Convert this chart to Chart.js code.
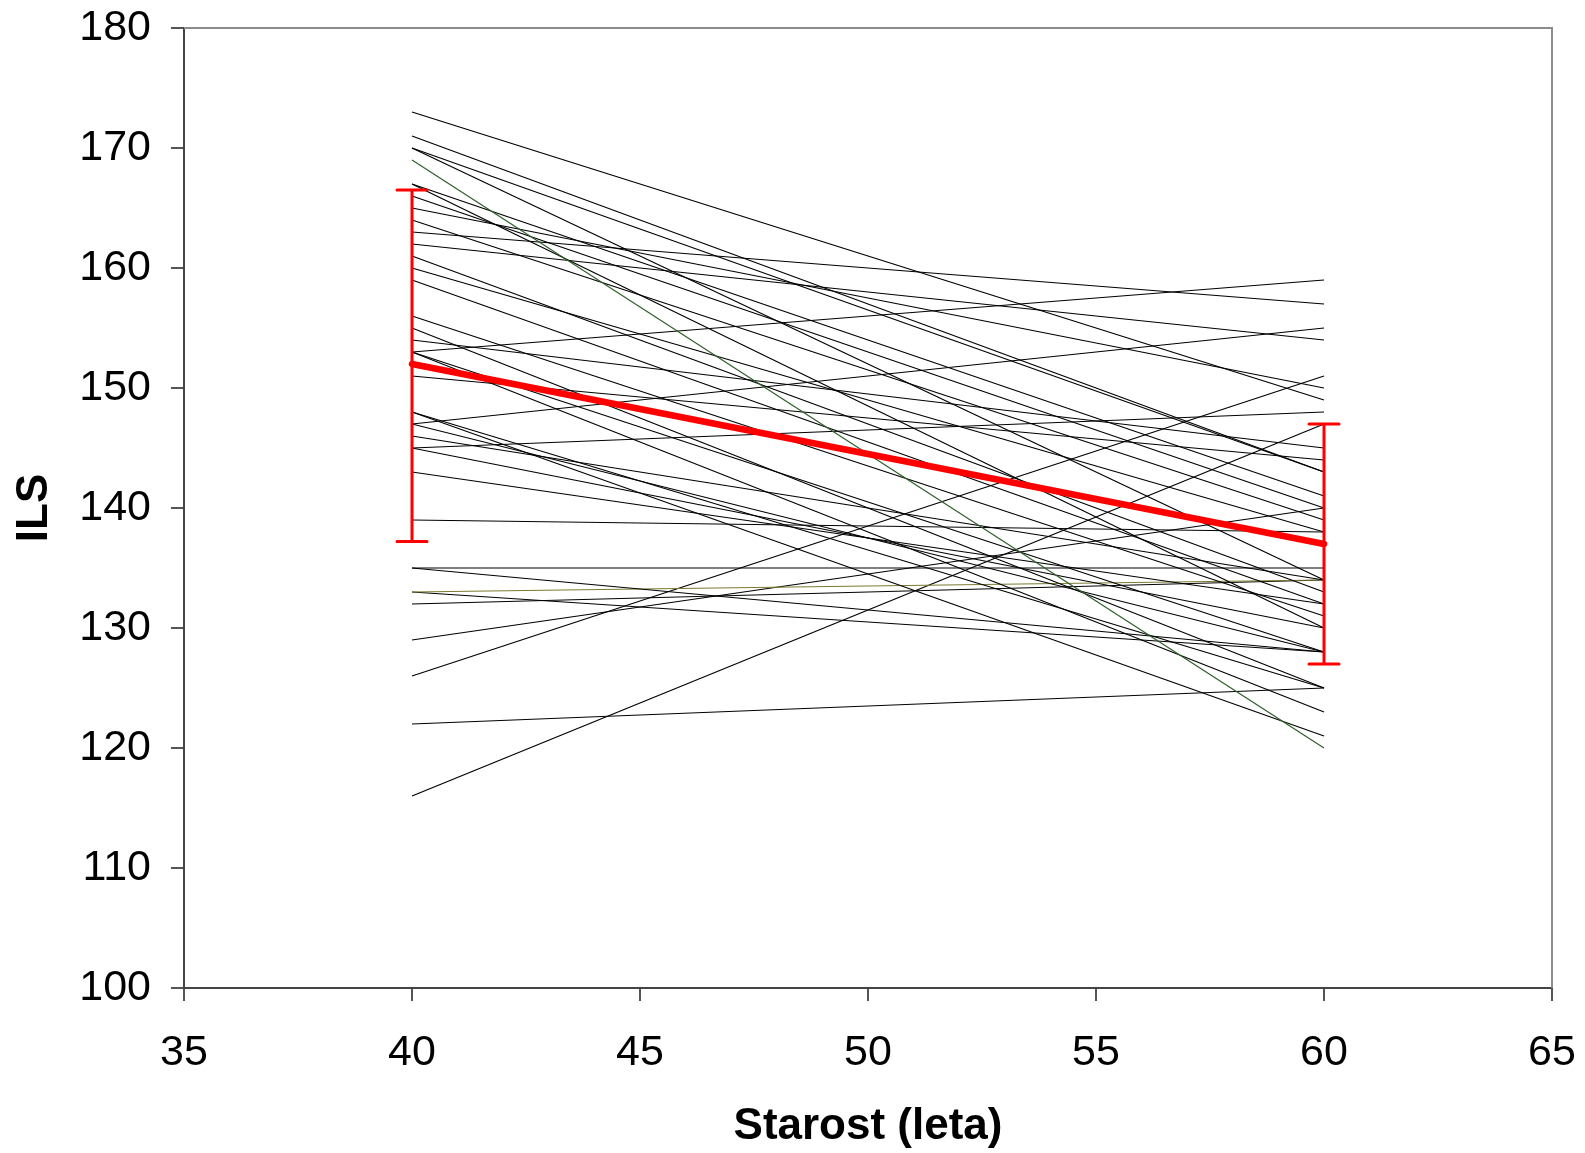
<!DOCTYPE html>
<html>
<head>
<meta charset="utf-8">
<title>ILS</title>
<script src="https://cdn.jsdelivr.net/npm/chart.js@4.4.1/dist/chart.umd.min.js"></script>
<style>
  html, body { margin: 0; padding: 0; background: #fff; }
  canvas { display: block; }
</style>
</head>
<body>
<canvas id="ilsChart" width="1585" height="1153"></canvas>
<script>
// ages where each person was measured
const ages = [40, 60];

// individual ILS values at 40 and 60 (one pair per person)
const ilsAt40 = [173, 171, 170, 170, 169, 167, 167, 166, 165, 164,
                 163, 162, 161, 160, 159, 156, 155, 154, 153, 153,
                 153, 151, 148, 148, 147, 147, 146, 145, 145, 143,
                 139, 135, 135, 133, 133, 132, 129, 126, 122, 116];
const ilsAt60 = [149, 143, 143, 134, 120, 141, 130, 140, 150, 139,
                 157, 154, 133, 138, 132, 131, 125, 145, 159, 128,
                 123, 144, 125, 121, 155, 128, 134, 148, 130, 132,
                 138, 135, 128, 134, 128, 134, 140, 151, 125, 147];

// mean and error bar range
const meanIls = [152, 137];
const errLow = [137.2, 127];
const errHigh = [166.5, 147];

const xTicks = [35, 40, 45, 50, 55, 60, 65];
const yTicks = [100, 110, 120, 130, 140, 150, 160, 170, 180];

const FONT = "'Liberation Sans', Arial, Helvetica, sans-serif";

// a couple of lines are drawn in colour in the original
function lineColor(i) {
  if (i === 4) return "#2f5f2a";
  if (i === 33) return "#7a7a30";
  return "#000000";
}

const datasets = [];
datasets.push({
  label: "mean",
  data: ages.map((a, i) => ({ x: a, y: meanIls[i] })),
  borderColor: "#ff0000",
  borderWidth: 6.5,
  borderCapStyle: "round",
  pointRadius: 0,
  fill: false,
});
ilsAt40.forEach((v, i) => {
  datasets.push({
    label: "p" + i,
    data: [{ x: ages[0], y: v }, { x: ages[1], y: ilsAt60[i] }],
    borderColor: lineColor(i),
    borderWidth: 1.2,
    pointRadius: 0,
    fill: false,
  });
});

const errorBars = {
  id: "errorBars",
  afterDatasetsDraw(chart) {
    const ctx = chart.ctx;
    const xs = chart.scales.x;
    const ys = chart.scales.y;
    ctx.save();
    ctx.strokeStyle = "#ff0000";
    ctx.lineWidth = 3;
    ctx.lineCap = "round";
    ages.forEach((a, i) => {
      const x = xs.getPixelForValue(a);
      const y1 = ys.getPixelForValue(errLow[i]);
      const y2 = ys.getPixelForValue(errHigh[i]);
      ctx.beginPath();
      ctx.moveTo(x, y1);
      ctx.lineTo(x, y2);
      ctx.moveTo(x - 15, y1);
      ctx.lineTo(x + 15, y1);
      ctx.moveTo(x - 15, y2);
      ctx.lineTo(x + 15, y2);
      ctx.stroke();
    });
    ctx.restore();
  },
};

const frame = {
  id: "frame",
  afterDraw(chart) {
    const { left, right, top, bottom } = chart.chartArea;
    const ctx = chart.ctx;
    ctx.save();
    ctx.strokeStyle = "#8c8c8c";
    ctx.lineWidth = 2;
    ctx.beginPath();
    ctx.moveTo(left, top);
    ctx.lineTo(right, top);
    ctx.lineTo(right, bottom);
    ctx.stroke();
    ctx.restore();
  },
};

new Chart(document.getElementById("ilsChart").getContext("2d"), {
  type: "line",
  data: { datasets: datasets },
  plugins: [errorBars, frame],
  options: {
    responsive: false,
    animation: false,
    devicePixelRatio: 1,
    layout: { padding: { top: 28, right: 33, left: 0, bottom: 0 } },
    plugins: {
      legend: { display: false },
      tooltip: { enabled: false },
    },
    scales: {
      x: {
        type: "linear",
        min: 35,
        max: 65,
        afterBuildTicks: (scale) => { scale.ticks = xTicks.map((v) => ({ value: v })); },
        afterFit: (scale) => {
          scale.height = 165;
          scale.paddingLeft = 0;
          scale.paddingRight = 0;
        },
        ticks: { color: "#000", font: { family: FONT, size: 43 }, padding: 26, maxRotation: 0 },
        grid: { drawOnChartArea: false, tickLength: 13, color: "#555", lineWidth: 2 },
        border: { color: "#444", width: 2 },
        title: {
          display: true,
          text: "Starost (leta)",
          color: "#000",
          font: { family: FONT, size: 44, weight: "bold" },
          padding: { top: 0, bottom: 0 },
        },
      },
      y: {
        min: 100,
        max: 180,
        afterBuildTicks: (scale) => { scale.ticks = yTicks.map((v) => ({ value: v })); },
        afterFit: (scale) => {
          scale.width = 184;
          scale.paddingTop = 0;
          scale.paddingBottom = 0;
        },
        ticks: { color: "#000", font: { family: FONT, size: 43 }, padding: 20 },
        grid: { drawOnChartArea: false, tickLength: 13, color: "#555", lineWidth: 2 },
        border: { color: "#444", width: 2 },
        title: {
          display: true,
          text: "ILS",
          color: "#000",
          font: { family: FONT, size: 44, weight: "bold" },
          padding: { top: 8, bottom: 0 },
        },
      },
    },
  },
});
</script>
</body>
</html>
